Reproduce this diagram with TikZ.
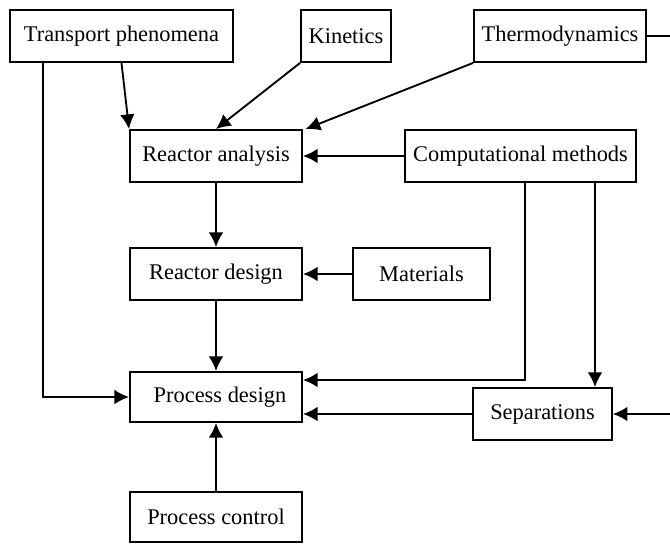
\documentclass[tikz,border=0pt]{standalone}
\usepackage{fontspec}
\setmainfont{Liberation Serif}
\usetikzlibrary{arrows.meta}
\begin{document}
\begin{tikzpicture}
	[
		x=0.75pt, y=-0.75pt,
		font=\fontsize{16.8}{20}\selectfont,
		Link/.style={draw, line width=1.4pt, -{Latex[length=11pt,width=11pt]}}
	]
	\tikzstyle{Box} = [rectangle, minimum height=39pt, inner sep=2pt, text centered, draw=black, line width=1.4pt]
	\useasboundingbox (0,0) rectangle (670,543);
	\node [Box, minimum width=167pt] (transport) at (121.5,36) {Transport phenomena};
	\node [Box, minimum width=67.5pt] (kinetics) at (346,36) {Kinetics};
	\node [Box, minimum width=129pt] (thermo) at (560,36) {Thermodynamics};
	\node [Box, minimum width=129pt] (analysis) at (216,156) {Reactor analysis};
	\node [Box, minimum width=173pt] (compute) at (520.5,156) {Computational methods};
	\node [Box, minimum width=129pt] (rdesign) at (216,274) {Reactor design};
	\node [Box, minimum width=103pt] (materials) at (421.5,274) {Materials};
	\node [Box, minimum width=129pt, minimum height=37.5pt] (pdesign) at (216,397) {\hspace{6pt}Process design};
	\node [Box, minimum width=104pt] (separations) at (542.5,414) {Separations};
	\node [Box, minimum width=129pt, minimum height=37.5pt] (control) at (216,517) {Process control};
	% free ends at the right border
	\coordinate (thermoend) at (672,36);
	\coordinate (sepend) at (672,414);
	\coordinate (xleft) at (43,0);
	\coordinate (xmid) at (525,0);
	\coordinate (xright) at (595,0);
	% inputs to reactor analysis
	\draw [Link] (transport.south) -- (analysis.north west);
	\draw [Link] (kinetics.south west) -- (analysis.north);
	\draw [Link] (thermo.south west) -- ([xshift=2pt]analysis.north east);
	\draw [Link] (compute.west) -- (analysis.east);
	% reactor chain
	\draw [Link] (analysis.south) -- (rdesign.north);
	\draw [Link] (materials.west) -- (rdesign.east);
	\draw [Link] (rdesign.south) -- (pdesign.north);
	\draw [Link] (control.north) -- (pdesign.south);
	% long links
	\draw [Link] (xleft |- transport.south) |- (pdesign.west);
	\draw [Link] (xmid |- compute.south) |- ([yshift=12.75pt]pdesign.east);
	\draw [Link] (xright |- compute.south) -- (xright |- separations.north);
	\draw [Link] (separations.west) -- (separations.west -| pdesign.east);
	\draw [line width=1.4pt] (thermo.east) -- (thermoend);
	\draw [Link] (sepend) -- (separations.east);
\end{tikzpicture}
\end{document}
